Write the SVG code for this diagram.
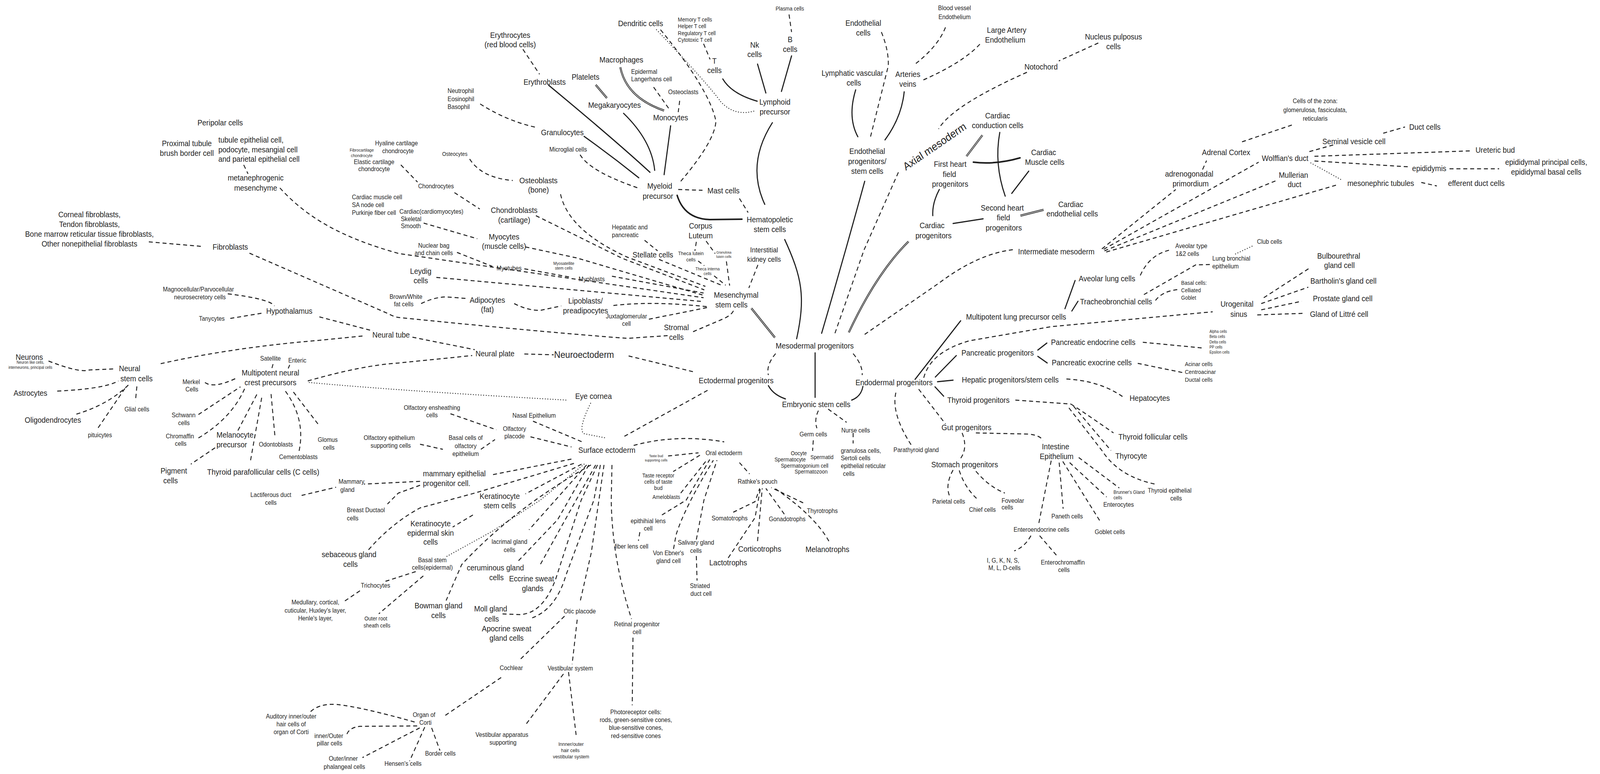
<svg xmlns="http://www.w3.org/2000/svg" width="4406" height="1981" viewBox="0 0 4406 1981">
<style>
text{font-family:"Liberation Sans",Arial,sans-serif;fill:#1e1e1e;text-anchor:middle;dominant-baseline:central}
.l{text-anchor:start}
.s28{font-size:28px}.s24{font-size:24px}.s20{font-size:20px}.s18{font-size:18px}.s16{font-size:16px}.s15{font-size:15px}.s14{font-size:14px}.s13{font-size:13px}.s12{font-size:12px}.s11{font-size:11px}.s10{font-size:10px}.s9{font-size:9px}
.d{fill:none;stroke:#1e1e1e;stroke-width:2.5;stroke-dasharray:11 8}
.s{fill:none;stroke:#1e1e1e;stroke-width:3;stroke-linecap:round}
.dt{fill:none;stroke:#1e1e1e;stroke-width:2.5;stroke-dasharray:0.1 7;stroke-linecap:round}
.db{fill:none;stroke:#1e1e1e;stroke-width:5}
.dw{fill:none;stroke:#ffffff;stroke-width:1.4}
</style>
<rect width="4406" height="1981" fill="#ffffff"/>
<g id="diagram" transform="scale(0.927,1)">
<g id="connectors">
<path class="d" d="M673,422 L685,445"/>
<path class="d" d="M773,481 C850,560 950,610 1102,649 L1943,762"/>
<path class="d" d="M411,619 L562,631"/>
<path class="d" d="M689,648 L1075,804 Q1090,812 1105,813 Q1500,850 1732,866 L1845,859"/>
<path class="d" d="M1107,422 L1153,466"/>
<path class="d" d="M1255,493 L1325,535"/>
<path class="d" d="M1297,407 Q1330,455 1416,462"/>
<path class="d" d="M1170,571 L1318,611"/>
<path class="d" d="M1262,646 L1360,682"/>
<path class="d" d="M1448,688 L1578,710"/>
<path class="d" d="M1690,707 L1943,750"/>
<path class="d" d="M1548,497 Q1570,590 1732,658 L1948,733"/>
<path class="d" d="M1480,552 L1718,661 L1945,742"/>
<path class="d" d="M1451,632 L1592,660 L1940,755"/>
<path class="d" d="M1205,710 L1943,772"/>
<path class="d" d="M1780,615 L1816,642"/>
<path class="d" d="M1820,664 L1995,731"/>
<path class="d" d="M1923,619 L1919,642"/>
<path class="d" d="M1950,617 L1975,649"/>
<path class="d" d="M1928,668 L1945,680"/>
<path class="d" d="M1972,706 L2004,730"/>
<path class="d" d="M2006,669 L2015,731"/>
<path class="d" d="M2093,678 L2068,737"/>
<path class="d" d="M1163,777 Q1200,760 1234,760 L1290,764"/>
<path class="d" d="M1420,777 Q1460,796 1494,794 L1550,783"/>
<path class="d" d="M1694,782 Q1800,770 1954,785"/>
<path class="d" d="M1792,817 L1954,787"/>
<path class="d" d="M1914,849 L2000,815 Q2022,805 2026,794"/>
<path class="db" d="M2075,789 L2140,864"/><path class="dw" d="M2075,789 L2140,864"/>
<path class="s" d="M2167,613 C2215,710 2225,760 2200,867"/>
<path class="d" d="M1444,126 L1490,190"/>
<path class="s" d="M1515,218 Q1700,360 1795,441"/>
<path class="db" d="M1645,217 L1676,251"/><path class="dw" d="M1645,217 L1676,251"/>
<path class="s" d="M1722,290 Q1800,360 1808,436"/>
<path class="db" d="M1713,172 Q1730,250 1834,283"/><path class="dw" d="M1713,172 Q1730,250 1834,283"/>
<path class="d" d="M1805,223 L1851,283"/>
<path class="d" d="M1877,258 L1873,287"/>
<path class="s" d="M1852,322 L1834,447"/>
<path class="s" d="M1613,349 Q1690,400 1764,455"/>
<path class="d" d="M1326,266 Q1400,310 1485,327"/>
<path class="d" d="M1602,396 Q1630,440 1768,483"/>
<path class="d" d="M1824,76 Q1960,230 1977,310 Q1975,360 1880,464"/>
<path class="dt" d="M1813,76 Q1960,220 1990,260 Q2030,300 2087,283"/>
<path class="s" d="M1996,202 Q2020,240 2091,259"/>
<path class="s" d="M2092,164 L2115,238"/>
<path class="s" d="M2186,143 L2158,234"/>
<path class="d" d="M2179,37 L2186,82"/>
<path class="d" d="M1943,112 L1961,152"/>
<path class="s" d="M2133,314 Q2060,420 2112,523"/>
<path class="s" d="M1870,500 Q1890,560 1960,562 L2049,561" style="stroke-width:4"/>
<path class="d" d="M1873,485 L1940,487"/>
<path class="d" d="M2042,508 L2066,544"/>
<path class="d" d="M629,752 Q745,765 758,783"/>
<path class="d" d="M636,815 L727,801"/>
<path class="d" d="M882,811 L1030,847"/>
<path class="d" d="M1001,860 L870,872 Q640,890 443,931"/>
<path class="d" d="M134,924 Q220,955 246,947 L320,944"/>
<path class="d" d="M158,1001 Q290,995 327,975"/>
<path class="d" d="M211,1060 Q300,1035 355,985"/>
<path class="d" d="M271,1095 L348,990"/>
<path class="d" d="M378,989 L374,1027"/>
<path class="d" d="M566,979 Q590,995 650,969"/>
<path class="d" d="M754,932 L751,942"/>
<path class="d" d="M800,934 L796,943"/>
<path class="d" d="M548,1061 L664,990"/>
<path class="d" d="M548,1121 Q640,1070 676,994"/>
<path class="d" d="M657,1102 L713,1003"/>
<path class="d" d="M692,1178 L724,1011"/>
<path class="d" d="M759,1114 L748,1003"/>
<path class="d" d="M826,1154 Q845,1070 784,996"/>
<path class="d" d="M878,1085 L805,997"/>
<path class="d" d="M594,1146 L527,1188"/>
<path class="d" d="M850,975 Q1000,935 1102,929 L1304,910"/>
<path class="dt" d="M854,979 Q1100,1000 1564,1024"/>
<path class="dt" d="M1631,1032 Q1595,1100 1613,1110 L1673,1121"/>
<path class="d" d="M1139,863 L1311,895"/>
<path class="d" d="M1448,906 L1529,908"/>
<path class="d" d="M1736,911 L1921,953"/>
<path class="d" d="M1954,999 L1718,1120"/>
<path class="d" d="M1244,1059 L1371,1100"/>
<path class="d" d="M1328,1150 L1367,1125"/>
<path class="d" d="M1160,1137 L1223,1150"/>
<path class="d" d="M1472,1078 L1613,1133"/>
<path class="d" d="M1465,1118 L1578,1144"/>
<path class="d" d="M1750,1140 Q1870,1110 2000,1131"/>
<path class="d" d="M1845,1167 L1929,1159"/>
<path class="d" d="M1933,1165 L1859,1207"/>
<path class="d" d="M1880,1262 L1954,1175"/>
<path class="d" d="M2042,1184 L2070,1213"/>
<path class="d" d="M1828,1318 L1895,1280 L1960,1176"/>
<path class="d" d="M1860,1405 L1867,1369 Q1890,1300 1970,1178"/>
<path class="d" d="M1923,1381 L1944,1280 L1980,1178"/>
<path class="d" d="M1923,1423 L1925,1486"/>
<path class="d" d="M1767,1362 L1763,1384"/>
<path class="d" d="M2025,1311 L2085,1284 L2098,1250"/>
<path class="d" d="M2011,1428 L2085,1325 L2100,1250"/>
<path class="d" d="M2092,1385 L2105,1250"/>
<path class="d" d="M2166,1316 L2115,1250"/>
<path class="d" d="M2218,1287 L2130,1248"/>
<path class="d" d="M2289,1385 Q2250,1320 2140,1250"/>
<path class="d" d="M1578,1175 L1360,1215"/>
<path class="d" d="M1160,1232 L1005,1239"/>
<path class="d" d="M1160,1242 L1100,1262 L1070,1290"/>
<path class="d" d="M833,1268 L928,1247"/>
<path class="d" d="M1585,1186 L1311,1262 L1160,1300 Q1080,1340 1015,1410"/>
<path class="d" d="M1606,1188 L1451,1264"/>
<path class="d" d="M1306,1318 L1250,1349"/>
<path class="dt" d="M1613,1188 L1492,1280 L1359,1360 L1232,1425"/>
<path class="d" d="M1148,1463 L1064,1488"/>
<path class="d" d="M994,1512 L951,1539"/>
<path class="d" d="M1169,1474 L1046,1571"/>
<path class="d" d="M1620,1190 L1461,1356"/>
<path class="d" d="M1626,1190 L1540,1330 L1430,1437"/>
<path class="d" d="M1632,1190 Q1420,1300 1275,1445 L1232,1537"/>
<path class="d" d="M1645,1190 L1489,1450"/>
<path class="d" d="M1650,1190 L1605,1280 L1535,1481 Q1500,1570 1436,1573 L1380,1571"/>
<path class="d" d="M1658,1190 L1640,1280 L1563,1472 Q1535,1560 1468,1582"/>
<path class="d" d="M1668,1190 L1633,1414 L1601,1544"/>
<path class="d" d="M1690,1190 L1688,1280 Q1690,1430 1744,1584"/>
<path class="d" d="M1559,1577 L1433,1691"/>
<path class="d" d="M1594,1586 L1580,1700"/>
<path class="d" d="M1384,1734 L1225,1834"/>
<path class="d" d="M1145,1848 Q1000,1810 930,1803 Q880,1800 856,1823"/>
<path class="d" d="M1152,1858 L994,1859 Q965,1862 958,1879"/>
<path class="d" d="M1159,1863 L1001,1939"/>
<path class="d" d="M1173,1861 L1131,1948"/>
<path class="d" d="M1192,1863 L1215,1921"/>
<path class="d" d="M1556,1725 L1450,1857"/>
<path class="d" d="M1570,1720 L1591,1881"/>
<path class="d" d="M1748,1632 L1746,1805"/>
<path class="d" d="M2142,905 Q2115,935 2122,960"/>
<path class="s" d="M2122,987 Q2135,1010 2169,1021"/>
<path class="s" d="M2251,903 L2251,1017"/>
<path class="d" d="M2356,905 Q2383,935 2381,960"/>
<path class="s" d="M2383,989 Q2378,1015 2352,1024"/>
<path class="d" d="M2260,1051 Q2248,1075 2256,1096"/>
<path class="d" d="M2287,1047 L2338,1081"/>
<path class="d" d="M2356,1108 L2356,1135"/>
<path class="d" d="M2246,1127 L2244,1154"/>
<path class="s" d="M2388,464 Q2330,660 2269,853"/>
<path class="d" d="M2836,185 Q2630,270 2592,330"/>
<path class="d" d="M2481,441 L2386,640 L2305,855"/>
<path class="db" d="M2509,618 Q2420,700 2344,851"/><path class="dw" d="M2509,618 Q2420,700 2344,851"/>
<path class="d" d="M2797,639 Q2700,650 2594,724 L2383,859"/>
<path class="d" d="M2434,82 Q2455,130 2453,169 L2404,350"/>
<path class="d" d="M2611,70 Q2590,120 2523,167"/>
<path class="d" d="M2706,113 Q2660,160 2544,207"/>
<path class="s" d="M2363,230 Q2340,300 2369,350"/>
<path class="s" d="M2497,235 Q2490,300 2444,358"/>
<path class="d" d="M3033,110 L2924,156"/>
<path class="db" d="M2713,346 L2669,400"/><path class="dw" d="M2713,346 L2669,400"/>
<path class="s" d="M2761,339 Q2745,420 2776,502"/>
<path class="s" d="M2688,415 Q2750,422 2817,404" style="stroke-width:4"/>
<path class="s" d="M2841,438 L2794,495"/>
<path class="s" d="M2594,485 Q2574,520 2576,552"/>
<path class="s" d="M2632,572 L2715,560"/>
<path class="db" d="M2818,552 L2882,537"/><path class="dw" d="M2818,552 L2882,537"/>
<path class="d" d="M3043,637 L3247,485"/>
<path class="d" d="M3048,638 L3476,415"/>
<path class="d" d="M3050,642 L3525,462"/>
<path class="d" d="M3055,645 L3697,472"/>
<path class="d" d="M3321,434 L3332,411"/>
<path class="d" d="M3430,363 L3574,318"/>
<path class="d" d="M3616,388 L3690,369"/>
<path class="d" d="M3820,341 L3880,325"/>
<path class="d" d="M3630,400 L4066,386"/>
<path class="d" d="M3630,412 L3890,427"/>
<path class="d" d="M4003,432 L4140,432"/>
<path class="dt" d="M3620,417 L3708,462"/>
<path class="d" d="M3925,467 L3968,476"/>
<path class="s" d="M2527,971 L2653,821"/>
<path class="s" d="M2583,965 L2641,910"/>
<path class="s" d="M2589,977 L2632,973"/>
<path class="s" d="M2582,990 L2606,1014"/>
<path class="d" d="M2474,1005 Q2460,1060 2520,1144"/>
<path class="d" d="M2537,996 L2611,1085"/>
<path class="d" d="M2551,967 Q2570,900 2678,872 L2903,836 L3349,798"/>
<path class="s" d="M2866,896 L2891,878"/>
<path class="s" d="M2866,912 L2892,929"/>
<path class="d" d="M3156,876 L3325,891"/>
<path class="d" d="M3142,930 L3268,954"/>
<path class="d" d="M2945,970 Q3040,975 3103,1017"/>
<path class="d" d="M2804,1024 L2957,1034"/>
<path class="d" d="M2957,1034 Q2985,1050 3075,1108"/>
<path class="d" d="M2965,1040 L3068,1153"/>
<path class="d" d="M2952,1044 L3043,1153 Q3090,1220 3190,1239"/>
<path class="d" d="M2657,1108 Q2675,1150 2648,1179"/>
<path class="d" d="M2695,1108 L2842,1111 Q2875,1115 2880,1128"/>
<path class="d" d="M2632,1203 Q2610,1240 2622,1269"/>
<path class="d" d="M2649,1204 Q2665,1250 2702,1280"/>
<path class="d" d="M2695,1206 Q2730,1245 2775,1262"/>
<path class="d" d="M2903,1179 L2868,1343"/>
<path class="d" d="M2925,1184 L2936,1302"/>
<path class="d" d="M2935,1181 L3040,1337"/>
<path class="d" d="M2954,1184 L3056,1272"/>
<path class="d" d="M2979,1171 L3091,1249"/>
<path class="d" d="M2847,1371 Q2830,1400 2801,1410"/>
<path class="d" d="M2871,1371 L2922,1426"/>
<path class="s" d="M2941,790 L2969,718"/>
<path class="s" d="M2960,796 L2977,771"/>
<path class="d" d="M3149,705 Q3175,650 3235,639"/>
<path class="d" d="M3191,769 Q3210,745 3254,741"/>
<path class="d" d="M3159,754 L3302,678 L3342,677"/>
<path class="dt" d="M3412,650 L3458,630"/>
<path class="d" d="M3490,762 L3620,684"/>
<path class="d" d="M3483,777 L3613,735"/>
<path class="d" d="M3483,793 L3595,771"/>
<path class="d" d="M3472,806 L3599,802"/>
</g>
<g id="n-peripolar"><text class="s20" x="608" y="314">Peripolar cells</text></g>
<g id="n-proximal"><text class="s20"><tspan x="516" y="367">Proximal tubule</tspan><tspan x="516" y="392">brush border cell</tspan></text></g>
<g id="n-tubule"><text class="s20 l"><tspan x="603" y="358">tubule epithelial cell,</tspan><tspan x="603" y="383">podocyte, mesangial cell</tspan><tspan x="603" y="407">and parietal epithelial cell</tspan></text></g>
<g id="n-metanephrogenic"><text class="s20"><tspan x="706" y="455">metanephrogenic</tspan><tspan x="706" y="481">mesenchyme</tspan></text></g>
<g id="n-fibro-types"><text class="s20"><tspan x="247" y="549">Corneal fibroblasts,</tspan><tspan x="247" y="574">Tendon fibroblasts,</tspan><tspan x="247" y="599">Bone marrow reticular tissue fibroblasts,</tspan><tspan x="247" y="624">Other nonepithelial fibroblasts</tspan></text></g>
<g id="n-fibroblasts"><text class="s20" x="636" y="632">Fibroblasts</text></g>
<g id="n-hyaline"><text class="s16"><tspan x="1095" y="366">Hyaline cartilage</tspan><tspan x="1099" y="386">chondrocyte</tspan></text></g>
<g id="n-fibrocartilage"><text class="s11"><tspan x="999" y="384">Fibrocartilage</tspan><tspan x="999" y="398">chondrocyte</tspan></text></g>
<g id="n-elastic"><text class="s16"><tspan x="1033" y="414">Elastic cartilage</tspan><tspan x="1033" y="432">chondrocyte</tspan></text></g>
<g id="n-cardiac-cells"><text class="s16 l"><tspan x="972" y="504">Cardiac muscle cell</tspan><tspan x="972" y="524">SA node cell</tspan><tspan x="972" y="544">Purkinje fiber cell</tspan></text></g>
<g id="n-muscle-types"><text class="s16 l"><tspan x="1103" y="541">Cardiac(cardiomyocytes)</tspan><tspan x="1107" y="560">Skeletal</tspan><tspan x="1107" y="578">Smooth</tspan></text></g>
<g id="n-chondrocytes"><text class="s16" x="1204" y="476">Chondrocytes</text></g>
<g id="n-osteocytes"><text class="s14" x="1256" y="394">Osteocytes</text></g>
<g id="n-osteoblasts"><text class="s20"><tspan x="1487" y="462">Osteoblasts</tspan><tspan x="1487" y="486">(bone)</tspan></text></g>
<g id="n-chondroblasts"><text class="s20"><tspan x="1420" y="538">Chondroblasts</tspan><tspan x="1420" y="563">(cartilage)</tspan></text></g>
<g id="n-myocytes"><text class="s20"><tspan x="1392" y="606">Myocytes</tspan><tspan x="1392" y="630">(muscle cells)</tspan></text></g>
<g id="n-nuclearbag"><text class="s16"><tspan x="1198" y="628">Nuclear bag</tspan><tspan x="1198" y="647">and chain cells</tspan></text></g>
<g id="n-granulocyte-types"><text class="s16 l"><tspan x="1236" y="232">Neutrophil</tspan><tspan x="1236" y="253">Eosinophil</tspan><tspan x="1236" y="273">Basophil</tspan></text></g>
<g id="n-granulocytes"><text class="s20" x="1553" y="339">Granulocytes</text></g>
<g id="n-microglial"><text class="s16" x="1569" y="382">Microglial cells</text></g>
<g id="n-erythrocytes"><text class="s20"><tspan x="1409" y="90">Erythrocytes</tspan><tspan x="1409" y="114">(red blood cells)</tspan></text></g>
<g id="n-erythroblasts"><text class="s20" x="1504" y="210">Erythroblasts</text></g>
<g id="n-platelets"><text class="s20" x="1617" y="197">Platelets</text></g>
<g id="n-megakaryocytes"><text class="s20" x="1697" y="269">Megakaryocytes</text></g>
<g id="n-macrophages"><text class="s20" x="1716" y="153">Macrophages</text></g>
<g id="n-langerhans"><text class="s16 l"><tspan x="1743" y="183">Epidermal</tspan><tspan x="1743" y="202">Langerhans cell</tspan></text></g>
<g id="n-osteoclasts"><text class="s16" x="1887" y="235">Osteoclasts</text></g>
<g id="n-monocytes"><text class="s20" x="1852" y="301">Monocytes</text></g>
<g id="n-dendritic"><text class="s20" x="1769" y="60">Dendritic cells</text></g>
<g id="n-tcell-types"><text class="s14 l"><tspan x="1872" y="50">Memory T cells</tspan><tspan x="1872" y="67">Helper T cell</tspan><tspan x="1872" y="85">Regulatory T cell</tspan><tspan x="1872" y="102">Cytotoxic T cell</tspan></text></g>
<g id="n-tcells"><text class="s20"><tspan x="1973" y="156">T</tspan><tspan x="1973" y="180">cells</tspan></text></g>
<g id="n-nk"><text class="s20"><tspan x="2084" y="115">Nk</tspan><tspan x="2084" y="139">cells</tspan></text></g>
<g id="n-bcells"><text class="s20"><tspan x="2182" y="101">B</tspan><tspan x="2182" y="126">cells</tspan></text></g>
<g id="n-plasma"><text class="s14" x="2181" y="22">Plasma cells</text></g>
<g id="n-lymphoid"><text class="s20"><tspan x="2140" y="261">Lymphoid</tspan><tspan x="2140" y="286">precursor</tspan></text></g>
<g id="n-myeloid"><text class="s20"><tspan x="1822" y="476">Myeloid</tspan><tspan x="1817" y="502">precursor</tspan></text></g>
<g id="n-mast"><text class="s20" x="1998" y="488">Mast cells</text></g>
<g id="n-hsc"><text class="s20"><tspan x="2126" y="562">Hematopoletic</tspan><tspan x="2126" y="587">stem cells</tspan></text></g>
<g id="n-hepatatic"><text class="s16 l"><tspan x="1690" y="581">Hepatatic and</tspan><tspan x="1690" y="601">pancreatic</tspan></text></g>
<g id="n-corpus"><text class="s20"><tspan x="1935" y="578">Corpus</tspan><tspan x="1935" y="603">Luteum</tspan></text></g>
<g id="n-interstitial"><text class="s18"><tspan x="2110" y="640">Interstitial</tspan><tspan x="2110" y="664">kidney cells</tspan></text></g>
<g id="n-stellate"><text class="s20" x="1803" y="652">Stellate cells</text></g>
<g id="n-thecalutein"><text class="s13"><tspan x="1908" y="649">Theca lutein</tspan><tspan x="1908" y="665">cells</tspan></text></g>
<g id="n-granulosalutein"><text class="s9"><tspan x="1999" y="646">Granulosa</tspan><tspan x="1999" y="657">lutein cells</tspan></text></g>
<g id="n-thecainterna"><text class="s11"><tspan x="1954" y="688">Theca interna</tspan><tspan x="1954" y="700">cells</tspan></text></g>
<g id="n-myotubes"><text class="s16" x="1406" y="686">Myotubes</text></g>
<g id="n-myosatellite"><text class="s11"><tspan x="1557" y="674">Myosatellite</tspan><tspan x="1557" y="686">stem cells</tspan></text></g>
<g id="n-myoblasts"><text class="s16" x="1634" y="714">Myoblasts</text></g>
<g id="n-leydig"><text class="s20"><tspan x="1162" y="694">Leydig</tspan><tspan x="1162" y="718">cells</tspan></text></g>
<g id="n-brownwhite"><text class="s16"><tspan x="1121" y="759">Brown/White</tspan><tspan x="1115" y="778">fat cells</tspan></text></g>
<g id="n-adipocytes"><text class="s20"><tspan x="1346" y="768">Adipocytes</tspan><tspan x="1346" y="792">(fat)</tspan></text></g>
<g id="n-lipoblasts"><text class="s20"><tspan x="1617" y="770">Lipoblasts/</tspan><tspan x="1617" y="795">preadipocytes</tspan></text></g>
<g id="n-juxta"><text class="s16"><tspan x="1730" y="809">Juxtaglomerular</tspan><tspan x="1730" y="828">cell</tspan></text></g>
<g id="n-msc"><text class="s20"><tspan x="2033" y="755">Mesenchymal</tspan><tspan x="2020" y="780">stem cells</tspan></text></g>
<g id="n-stromal"><text class="s20"><tspan x="1868" y="838">Stromal</tspan><tspan x="1868" y="863">cells</tspan></text></g>
<g id="n-magno"><text class="s16"><tspan x="548" y="740">Magnocellular/Parvocellular</tspan><tspan x="552" y="760">neurosecretory cells</tspan></text></g>
<g id="n-hypothalamus"><text class="s20" x="799" y="796">Hypothalamus</text></g>
<g id="n-tanycytes"><text class="s16" x="585" y="815">Tanycytes</text></g>
<g id="n-neuraltube"><text class="s20" x="1080" y="857">Neural tube</text></g>
<g id="n-neurons"><text class="s20" x="81" y="914">Neurons</text><text class="s10"><tspan x="84" y="927">Neuron like cells,</tspan><tspan x="84" y="940">interneurons, principal cells</tspan></text></g>
<g id="n-nsc"><text class="s20"><tspan x="358" y="943">Neural</tspan><tspan x="377" y="969">stem cells</tspan></text></g>
<g id="n-astrocytes"><text class="s20" x="84" y="1006">Astrocytes</text></g>
<g id="n-oligodendrocytes"><text class="s20" x="146" y="1075">Oligodendrocytes</text></g>
<g id="n-pituicytes"><text class="s16" x="276" y="1113">pituicytes</text></g>
<g id="n-glial"><text class="s16" x="378" y="1047">Glial cells</text></g>
<g id="n-satellite"><text class="s16" x="747" y="917">Satellite</text></g>
<g id="n-enteric"><text class="s16" x="821" y="922">Enteric</text></g>
<g id="n-ncc"><text class="s20"><tspan x="747" y="954">Multipotent neural</tspan><tspan x="747" y="979">crest precursors</tspan></text></g>
<g id="n-merkel"><text class="s16"><tspan x="528" y="977">Merkel</tspan><tspan x="530" y="996">Cells</tspan></text></g>
<g id="n-schwann"><text class="s16"><tspan x="507" y="1062">Schwann</tspan><tspan x="508" y="1082">cells</tspan></text></g>
<g id="n-chromaffin"><text class="s16"><tspan x="497" y="1116">Chromaffin</tspan><tspan x="499" y="1135">cells</tspan></text></g>
<g id="n-melanocyte"><text class="s20"><tspan x="649" y="1113">Melanocyte</tspan><tspan x="640" y="1138">precursor</tspan></text></g>
<g id="n-odontoblasts"><text class="s16" x="762" y="1137">Odontoblasts</text></g>
<g id="n-glomus"><text class="s16"><tspan x="905" y="1125">Glomus</tspan><tspan x="908" y="1145">cells</tspan></text></g>
<g id="n-cementoblasts"><text class="s16" x="824" y="1169">Cementoblasts</text></g>
<g id="n-pigment"><text class="s20"><tspan x="480" y="1205">Pigment</tspan><tspan x="471" y="1230">cells</tspan></text></g>
<g id="n-thyroidpara"><text class="s20" x="727" y="1208">Thyroid parafollicular cells (C cells)</text></g>
<g id="n-neuralplate"><text class="s20" x="1367" y="905">Neural plate</text></g>
<g id="n-neuroectoderm"><text class="s24" x="1613" y="908">Neuroectoderm</text></g>
<g id="n-ectodermal"><text class="s20" x="2033" y="974">Ectodermal progenitors</text></g>
<g id="n-mesodermal"><text class="s20" x="2250" y="885">Mesodermal progenitors</text></g>
<g id="n-endodermal"><text class="s20" x="2469" y="979">Endodermal progenitors</text></g>
<g id="n-embryonic"><text class="s20" x="2254" y="1035">Embryonic stem cells</text></g>
<g id="n-eyecornea"><text class="s20" x="1639" y="1014">Eye cornea</text></g>
<g id="n-olfens"><text class="s16"><tspan x="1193" y="1043">Olfactory ensheathing</tspan><tspan x="1193" y="1062">cells</tspan></text></g>
<g id="n-olfsupp"><text class="s16"><tspan x="1075" y="1120">Olfactory epithelium</tspan><tspan x="1079" y="1140">supporting cells</tspan></text></g>
<g id="n-nasal"><text class="s16" x="1475" y="1063">Nasal Epithelium</text></g>
<g id="n-olfplacode"><text class="s16"><tspan x="1421" y="1097">Olfactory</tspan><tspan x="1421" y="1116">placode</tspan></text></g>
<g id="n-basalolf"><text class="s16"><tspan x="1286" y="1120">Basal cells of</tspan><tspan x="1286" y="1141">olfactory</tspan><tspan x="1286" y="1161">epithelium</tspan></text></g>
<g id="n-surface"><text class="s20" x="1676" y="1152">Surface ectoderm</text></g>
<g id="n-oral"><text class="s16" x="1999" y="1159">Oral ectoderm</text></g>
<g id="n-tastebud"><text class="s9"><tspan x="1812" y="1167">Taste bud</tspan><tspan x="1812" y="1178">supporting cells</tspan></text></g>
<g id="n-tastereceptor"><text class="s14"><tspan x="1818" y="1217">Taste receptor</tspan><tspan x="1818" y="1233">cells of taste</tspan><tspan x="1818" y="1249">bud</tspan></text></g>
<g id="n-ameloblasts"><text class="s14" x="1840" y="1272">Ameloblasts</text></g>
<g id="n-rathke"><text class="s16" x="2092" y="1232">Rathke's pouch</text></g>
<g id="n-mammaryepi"><text class="s20 l"><tspan x="1168" y="1212">mammary epithelial</tspan><tspan x="1168" y="1237">progenitor cell.</tspan></text></g>
<g id="n-mammarygland"><text class="s16 l"><tspan x="935" y="1232">Mammary</tspan><tspan x="940" y="1253">gland</tspan></text></g>
<g id="n-lactiferous"><text class="s16"><tspan x="748" y="1266">Lactiferous duct</tspan><tspan x="748" y="1286">cells</tspan></text></g>
<g id="n-kerstem"><text class="s20"><tspan x="1380" y="1270">Keratinocyte</tspan><tspan x="1380" y="1294">stem cells</tspan></text></g>
<g id="n-breastduct"><text class="s16 l"><tspan x="958" y="1305">Breast Ductaol</tspan><tspan x="958" y="1326">cells</tspan></text></g>
<g id="n-kerepi"><text class="s20"><tspan x="1189" y="1340">Keratinocyte</tspan><tspan x="1189" y="1364">epidermal skin</tspan><tspan x="1189" y="1387">cells</tspan></text></g>
<g id="n-sebaceous"><text class="s20"><tspan x="964" y="1419">sebaceous gland</tspan><tspan x="968" y="1444">cells</tspan></text></g>
<g id="n-basalstem"><text class="s16"><tspan x="1194" y="1433">Basal stem</tspan><tspan x="1194" y="1452">cells(epidermal)</tspan></text></g>
<g id="n-lacrimal"><text class="s16"><tspan x="1407" y="1386">lacrimal gland</tspan><tspan x="1407" y="1407">cells</tspan></text></g>
<g id="n-ceruminous"><text class="s20"><tspan x="1368" y="1453">ceruminous gland</tspan><tspan x="1371" y="1478">cells</tspan></text></g>
<g id="n-eccrine"><text class="s20"><tspan x="1468" y="1481">Eccrine sweat</tspan><tspan x="1471" y="1506">glands</tspan></text></g>
<g id="n-trichocytes"><text class="s16" x="1037" y="1498">Trichocytes</text></g>
<g id="n-medullary"><text class="s16"><tspan x="871" y="1541">Medullary, cortical,</tspan><tspan x="871" y="1562">cuticular, Huxley's layer,</tspan><tspan x="871" y="1582">Henle's layer,</tspan></text></g>
<g id="n-outerroot"><text class="s14"><tspan x="1038" y="1583">Outer root</tspan><tspan x="1041" y="1601">sheath cells</tspan></text></g>
<g id="n-bowman"><text class="s20"><tspan x="1211" y="1550">Bowman gland</tspan><tspan x="1211" y="1575">cells</tspan></text></g>
<g id="n-moll"><text class="s20"><tspan x="1355" y="1558">Moll gland</tspan><tspan x="1358" y="1584">cells</tspan></text></g>
<g id="n-apocrine"><text class="s20"><tspan x="1399" y="1609">Apocrine sweat</tspan><tspan x="1399" y="1633">gland cells</tspan></text></g>
<g id="n-otic"><text class="s16" x="1601" y="1564">Otic placode</text></g>
<g id="n-cochlear"><text class="s16" x="1412" y="1709">Cochlear</text></g>
<g id="n-vestibular"><text class="s16" x="1575" y="1710">Vestibular system</text></g>
<g id="n-auditory"><text class="s16"><tspan x="804" y="1833">Auditory inner/outer</tspan><tspan x="804" y="1853">hair cells of</tspan><tspan x="804" y="1873">organ of Corti</tspan></text></g>
<g id="n-corti"><text class="s16"><tspan x="1171" y="1829">Organ of</tspan><tspan x="1175" y="1849">Corti</tspan></text></g>
<g id="n-pillar"><text class="s16"><tspan x="908" y="1883">inner/Outer</tspan><tspan x="910" y="1902">pillar cells</tspan></text></g>
<g id="n-vestsupp"><text class="s16"><tspan x="1386" y="1880">Vestibular apparatus</tspan><tspan x="1389" y="1900">supporting</tspan></text></g>
<g id="n-vesthair"><text class="s13"><tspan x="1577" y="1905">Innner/outer</tspan><tspan x="1575" y="1921">hair cells</tspan><tspan x="1577" y="1937">vestibular system</tspan></text></g>
<g id="n-border"><text class="s16" x="1216" y="1928">Border cells</text></g>
<g id="n-phalangeal"><text class="s16"><tspan x="948" y="1941">Outer/inner</tspan><tspan x="951" y="1962">phalangeal cells</tspan></text></g>
<g id="n-hensen"><text class="s16" x="1113" y="1954">Hensen's cells</text></g>
<g id="n-epilens"><text class="s16"><tspan x="1790" y="1333">epithihial lens</tspan><tspan x="1790" y="1352">cell</tspan></text></g>
<g id="n-fiberlens"><text class="s16" x="1744" y="1398">fiber lens cell</text></g>
<g id="n-vonebner"><text class="s16"><tspan x="1846" y="1415">Von Ebner's</tspan><tspan x="1846" y="1435">gland cell</tspan></text></g>
<g id="n-salivary"><text class="s16"><tspan x="1922" y="1388">Salivary gland</tspan><tspan x="1922" y="1409">cells</tspan></text></g>
<g id="n-striated"><text class="s16"><tspan x="1933" y="1499">Striated</tspan><tspan x="1936" y="1519">duct cell</tspan></text></g>
<g id="n-somatotrophs"><text class="s16" x="2015" y="1326">Somatotrophs</text></g>
<g id="n-gonadotrophs"><text class="s16" x="2174" y="1328">Gonadotrophs</text></g>
<g id="n-thyrotrophs"><text class="s16" x="2271" y="1307">Thyrotrophs</text></g>
<g id="n-corticotrophs"><text class="s20" x="2098" y="1405">Corticotrophs</text></g>
<g id="n-lactotrophs"><text class="s20" x="2011" y="1440">Lactotrophs</text></g>
<g id="n-melanotrophs"><text class="s20" x="2285" y="1406">Melanotrophs</text></g>
<g id="n-retinal"><text class="s16"><tspan x="1759" y="1597">Retinal progenitor</tspan><tspan x="1759" y="1617">cell</tspan></text></g>
<g id="n-photoreceptor"><text class="s16"><tspan x="1756" y="1822">Photoreceptor cells:</tspan><tspan x="1756" y="1842">rods, green-sensitive cones,</tspan><tspan x="1756" y="1862">blue-sensitive cones,</tspan><tspan x="1756" y="1883">red-sensitive cones</tspan></text></g>
<g id="n-germ"><text class="s16" x="2246" y="1111">Germ cells</text></g>
<g id="n-nurse"><text class="s16" x="2363" y="1101">Nurse cells</text></g>
<g id="n-gametes"><text class="s14"><tspan x="2206" y="1160">Oocyte</tspan><tspan x="2182" y="1176">Spermatocyte</tspan><tspan x="2270" y="1170">Spermatid</tspan><tspan x="2222" y="1192">Spermatogonium cell</tspan><tspan x="2240" y="1207">Spermatozoon</tspan></text></g>
<g id="n-granulosa"><text class="s16 l"><tspan x="2322" y="1153">granulosa cells,</tspan><tspan x="2322" y="1172">Sertoli cells</tspan><tspan x="2322" y="1192">epithelial reticular</tspan><tspan x="2328" y="1212">cells</tspan></text></g>
<g id="n-parathyroid"><text class="s16" x="2530" y="1151">Parathyroid gland</text></g>
<g id="n-gut"><text class="s20" x="2669" y="1094">Gut progenitors</text></g>
<g id="n-stomach"><text class="s20" x="2664" y="1189">Stomach progenitors</text></g>
<g id="n-intestine"><text class="s20"><tspan x="2915" y="1143">Intestine</tspan><tspan x="2918" y="1168">Epithelium</tspan></text></g>
<g id="n-thyroidprog"><text class="s20" x="2702" y="1024">Thyroid progenitors</text></g>
<g id="n-hepaticprog"><text class="s20" x="2790" y="972">Hepatic progenitors/stem cells</text></g>
<g id="n-hepatocytes"><text class="s20" x="3175" y="1019">Hepatocytes</text></g>
<g id="n-pancprog"><text class="s20" x="2755" y="903">Pancreatic progenitors</text></g>
<g id="n-pancendo"><text class="s20" x="3019" y="876">Pancreatic endocrine cells</text></g>
<g id="n-pancexo"><text class="s20" x="3015" y="928">Pancreatic exocrine cells</text></g>
<g id="n-islet"><text class="s10 l"><tspan x="3340" y="848">Alpha cells</tspan><tspan x="3340" y="861">Beta cells</tspan><tspan x="3340" y="875">Delta cells</tspan><tspan x="3340" y="888">PP cells</tspan><tspan x="3340" y="901">Epsilon cells</tspan></text></g>
<g id="n-acinar"><text class="s15 l"><tspan x="3272" y="932">Acinar cells</tspan><tspan x="3272" y="952">Centroacinar</tspan><tspan x="3272" y="972">Ductal cells</tspan></text></g>
<g id="n-multilung"><text class="s20" x="2806" y="811">Multipotent lung precursor cells</text></g>
<g id="n-aveolarlung"><text class="s20" x="3057" y="713">Aveolar lung cells</text></g>
<g id="n-trachea"><text class="s20" x="3082" y="772">Tracheobronchial cells</text></g>
<g id="n-basalcells"><text class="s14 l"><tspan x="3262" y="724">Basal cells:</tspan><tspan x="3262" y="743">Celliated</tspan><tspan x="3262" y="762">Goblet</tspan></text></g>
<g id="n-lungbronch"><text class="s16 l"><tspan x="3348" y="661">Lung bronchial</tspan><tspan x="3348" y="681">epithelium</tspan></text></g>
<g id="n-club"><text class="s16" x="3506" y="618">Club cells</text></g>
<g id="n-aveolartype"><text class="s16"><tspan x="3290" y="629">Aveolar type</tspan><tspan x="3279" y="649">1&amp;2 cells</tspan></text></g>
<g id="n-urogenital"><text class="s20"><tspan x="3416" y="778">Urogenital</tspan><tspan x="3421" y="804">sinus</tspan></text></g>
<g id="n-bulbo"><text class="s20"><tspan x="3697" y="655">Bulbourethral</tspan><tspan x="3699" y="679">gland cell</tspan></text></g>
<g id="n-bartholin"><text class="s20" x="3710" y="719">Bartholin's gland cell</text></g>
<g id="n-prostate"><text class="s20" x="3708" y="764">Prostate gland cell</text></g>
<g id="n-littre"><text class="s20" x="3698" y="804">Gland of Littré cell</text></g>
<g id="n-thyrfoll"><text class="s20" x="3184" y="1118">Thyroid follicular cells</text></g>
<g id="n-thyrocyte"><text class="s20" x="3124" y="1167">Thyrocyte</text></g>
<g id="n-thyrepi"><text class="s16"><tspan x="3230" y="1255">Thyroid epithelial</tspan><tspan x="3248" y="1275">cells</tspan></text></g>
<g id="n-brunner"><text class="s12 l"><tspan x="3075" y="1260">Brunner's Gland</tspan><tspan x="3075" y="1274">cells</tspan></text></g>
<g id="n-parietal"><text class="s16" x="2620" y="1283">Parietal cells</text></g>
<g id="n-chief"><text class="s16" x="2713" y="1304">Chief cells</text></g>
<g id="n-foveolar"><text class="s16 l"><tspan x="2766" y="1281">Foveolar</tspan><tspan x="2766" y="1298">cells</tspan></text></g>
<g id="n-enterocytes"><text class="s16" x="3089" y="1291">Enterocytes</text></g>
<g id="n-paneth"><text class="s16" x="2947" y="1321">Paneth cells</text></g>
<g id="n-enteroendo"><text class="s16" x="2876" y="1355">Enteroendocrine cells</text></g>
<g id="n-goblet"><text class="s16" x="3065" y="1361">Goblet cells</text></g>
<g id="n-igk"><text class="s16"><tspan x="2770" y="1434">I, G, K, N, S,</tspan><tspan x="2774" y="1453">M, L, D-cells</tspan></text></g>
<g id="n-enterochrom"><text class="s16"><tspan x="2935" y="1439">Enterochromaffin</tspan><tspan x="2938" y="1458">cells</tspan></text></g>
<g id="n-intermediate"><text class="s20" x="2917" y="644">Intermediate mesoderm</text></g>
<g id="n-endoprog"><text class="s20"><tspan x="2395" y="387">Endothelial</tspan><tspan x="2395" y="413">progenitors/</tspan><tspan x="2395" y="438">stem cells</tspan></text></g>
<g id="n-endocells"><text class="s20"><tspan x="2384" y="59">Endothelial</tspan><tspan x="2384" y="84">cells</tspan></text></g>
<g id="n-bloodvessel"><text class="s16"><tspan x="2636" y="20">Blood vessel</tspan><tspan x="2636" y="43">Endothelium</tspan></text></g>
<g id="n-largeartery"><text class="s20"><tspan x="2780" y="77">Large Artery</tspan><tspan x="2776" y="102">Endothelium</tspan></text></g>
<g id="n-nucleus"><text class="s20"><tspan x="3075" y="94">Nucleus pulposus</tspan><tspan x="3075" y="119">cells</tspan></text></g>
<g id="n-notochord"><text class="s20" x="2875" y="171">Notochord</text></g>
<g id="n-lymphatic"><text class="s20"><tspan x="2354" y="187">Lymphatic vascular</tspan><tspan x="2358" y="212">cells</tspan></text></g>
<g id="n-arteries"><text class="s20"><tspan x="2507" y="190">Arteries</tspan><tspan x="2507" y="215">veins</tspan></text></g>
<g id="n-conduction"><text class="s20"><tspan x="2755" y="296">Cardiac</tspan><tspan x="2755" y="321">conduction cells</tspan></text></g>
<g id="n-cardmuscle"><text class="s20"><tspan x="2882" y="390">Cardiac</tspan><tspan x="2885" y="415">Muscle cells</tspan></text></g>
<g id="n-firstheart"><text class="s20"><tspan x="2624" y="420">First heart</tspan><tspan x="2622" y="446">field</tspan><tspan x="2624" y="471">progenitors</tspan></text></g>
<g id="n-axial"><text class="s28" transform="translate(2581,375) rotate(-32.6)" x="0" y="0">Axial mesoderm</text></g>
<g id="n-secondheart"><text class="s20"><tspan x="2768" y="532">Second heart</tspan><tspan x="2771" y="557">field</tspan><tspan x="2772" y="583">progenitors</tspan></text></g>
<g id="n-cardendo"><text class="s20"><tspan x="2957" y="523">Cardiac</tspan><tspan x="2961" y="547">endothelial cells</tspan></text></g>
<g id="n-cardprog"><text class="s20"><tspan x="2574" y="577">Cardiac</tspan><tspan x="2578" y="603">progenitors</tspan></text></g>
<g id="n-adrenogonadal"><text class="s20"><tspan x="3284" y="445">adrenogonadal</tspan><tspan x="3288" y="470">primordium</tspan></text></g>
<g id="n-adrenal"><text class="s20" x="3386" y="390">Adrenal Cortex</text></g>
<g id="n-zona"><text class="s16"><tspan x="3632" y="258">Cells of the zona:</tspan><tspan x="3632" y="281">glomerulosa, fasciculata,</tspan><tspan x="3632" y="303">reticularis</tspan></text></g>
<g id="n-ductcells"><text class="s20" x="3935" y="325">Duct cells</text></g>
<g id="n-seminal"><text class="s20" x="3739" y="362">Seminal vesicle cell</text></g>
<g id="n-ureteric"><text class="s20" x="4129" y="384">Ureteric bud</text></g>
<g id="n-wolffian"><text class="s20" x="3549" y="405">Wolffian's duct</text></g>
<g id="n-epididymal"><text class="s20"><tspan x="4270" y="415">epididymal principal cells,</tspan><tspan x="4270" y="440">epididymal basal cells</tspan></text></g>
<g id="n-epididymis"><text class="s20" x="3947" y="431">epididymis</text></g>
<g id="n-mullerian"><text class="s20"><tspan x="3572" y="448">Mullerian</tspan><tspan x="3575" y="472">duct</tspan></text></g>
<g id="n-mesonephric"><text class="s20" x="3813" y="469">mesonephric tubules</text></g>
<g id="n-efferent"><text class="s20" x="4077" y="469">efferent duct cells</text></g>
</g>
</svg>
